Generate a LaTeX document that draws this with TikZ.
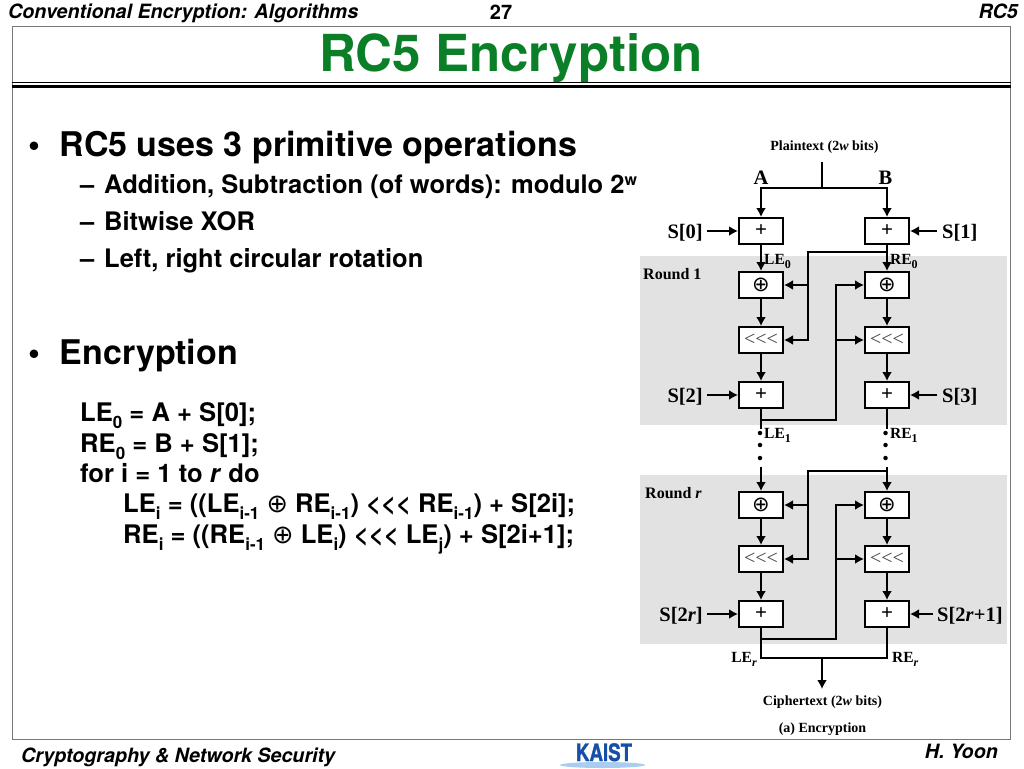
\documentclass[tikz,border=0pt]{standalone}
\usepackage{fontspec}
\setmainfont{TeX Gyre Heros}
\newfontfamily\figfont{Liberation Serif}
\newfontfamily\symfont{DejaVu Sans}
\usetikzlibrary{arrows.meta}
\newcommand\fsz[1]{\fontsize{#1}{#1}\selectfont}
\newcommand\lowtxt[2]{\raisebox{-.28em}{\fsz{#1}#2}}
\newcommand\uptxt[2]{\raisebox{.3em}{\fsz{#1}#2}}
\newcommand\xorsym{{\symfont\mdseries ⊕}}
\definecolor{titlegreen}{HTML}{0B7F28}
\definecolor{framegray}{HTML}{777777}
\definecolor{roundgray}{HTML}{E2E2E2}
\definecolor{kaistblue}{HTML}{1550A8}
\definecolor{kaistsky}{HTML}{A9CDF0}
\tikzset{
  txt/.style={anchor=base west,inner sep=0pt,font=\bfseries},
  hdr/.style={anchor=base west,inner sep=0pt,font=\bfseries\itshape\fsz{19.7}},
  opbox/.style={draw=black,fill=white,line width=2pt,minimum width=44pt,minimum height=26pt,inner sep=0pt,font=\figfont\bfseries\fsz{21}},
  lab/.style={inner sep=0pt,font=\figfont\bfseries\fsz{20.5}},
  lbl/.style={inner sep=0pt,font=\figfont\bfseries\fsz{15.5}},
  small/.style={inner sep=0pt,font=\figfont\bfseries\fsz{14}},
  wire/.style={line width=2pt},
  arrow/.style={wire,-{Latex[length=9pt,width=10pt]}},
  ddot/.style={circle,fill=black,inner sep=0pt,minimum size=4.5pt},
}
\begin{document}
\begin{tikzpicture}[x=1pt,y=-1pt]
\useasboundingbox (0,0) rectangle (1024,768);
\fill[white] (0,0) rectangle (1024,768);
% slide frame
\draw[framegray,line width=1pt] (12.5,26.5) rectangle (1010.5,739.5);
\draw[black,line width=1pt] (12,82.5) -- (1011,82.5);
\fill[black] (12,85) rectangle (1011,88);
% headers
\node[hdr] (hdrleft) at (8,19) {Conventional Encryption: Algorithms};
\node[anchor=base,inner sep=0pt,font=\bfseries\fsz{20}] (pagenum) at (501,20) {27};
\node[hdr,anchor=base east] (hdrright) at (1018,19) {RC5};
\node[anchor=base,inner sep=0pt,font=\bfseries\fsz{51},text=titlegreen] (title) at (511,71) {RC5 Encryption};
\node[hdr] (footleft) at (21,762) {Cryptography \& Network Security};
\node[hdr,anchor=base east] (footright) at (998,758) {H. Yoon};
% logo
\fill[kaistsky] (602.5,765) ellipse (42.5pt and 3pt);
\node[anchor=base,inner sep=0pt,xscale=.78,font=\bfseries\fsz{24}\addfontfeature{FakeBold=1.5},text=kaistblue] (logo) at (604,761) {KAIST};
% left text
\node[txt,font=\bfseries\fsz{34}] (b1) at (59.5,156) {RC5 uses 3 primitive operations};
\node[txt,font=\bfseries\fsz{34}] (bu1) at (28,156) {•};
\node[txt,font=\bfseries\fsz{25.5}] (d1) at (80,193) {–};
\node[txt,font=\bfseries\fsz{25.5}] (s1) at (104,193) {Addition, Subtraction (of words): modulo 2\uptxt{16}{w}};
\node[txt,font=\bfseries\fsz{25.5}] (d2) at (80,230) {–};
\node[txt,font=\bfseries\fsz{25.5}] (s2) at (104,230) {Bitwise XOR};
\node[txt,font=\bfseries\fsz{25.5}] (d3) at (80,267) {–};
\node[txt,font=\bfseries\fsz{25.5}] (s3) at (104,267) {Left, right circular rotation};
\node[txt,font=\bfseries\fsz{34}] (bu2) at (28,364) {•};
\node[txt,font=\bfseries\fsz{34}] (b2) at (59.5,364) {Encryption};
\node[txt,font=\bfseries\fsz{25.6}] (f1) at (80,421) {LE\lowtxt{17}{0} = A + S[0];};
\node[txt,font=\bfseries\fsz{25.6}] (f2) at (80,452) {RE\lowtxt{17}{0} = B + S[1];};
\node[txt,font=\bfseries\fsz{25.6}] (f3) at (80,482) {for i = 1 to \textit{r} do};
\node[txt,font=\bfseries\fsz{25.6}] (f4) at (123,512) {LE\lowtxt{17}{i} = ((LE\lowtxt{17}{i-1} \xorsym{} RE\lowtxt{17}{i-1}) <{}<{}< RE\lowtxt{17}{i-1}) + S[2i];};
\node[txt,font=\bfseries\fsz{25.6}] (f5) at (123,543) {RE\lowtxt{17}{i} = ((RE\lowtxt{17}{i-1} \xorsym{} LE\lowtxt{17}{i}) <{}<{}< LE\lowtxt{17}{j}) + S[2i+1];};
% round backgrounds
\fill[roundgray] (640,256) rectangle (1007,425);
\fill[roundgray] (640,475) rectangle (1007,644);
\node[lab,anchor=base west,font=\figfont\bfseries\fsz{16}] (r1) at (643,279) {Round 1};
\node[lab,anchor=base west,font=\figfont\bfseries\fsz{16}] (rr) at (645,498) {Round \textit{r}};
% top
\node[small] (plain) at (824.5,147) {Plaintext (2\textit{w} bits)};
\coordinate (ptop) at (822,162);
\coordinate (pjoin) at (822,188);
\coordinate (ajoin) at (761,188);
\coordinate (bjoin) at (887,188);
\node[lab,anchor=base] (la) at (761,184) {A};
\node[lab,anchor=base] (lb) at (885.5,184) {B};
% boxes
\foreach \n/\x/\y/\t in {a0/761/231/+,b0/887/231/+,a2/761/395/+,b2/887/395/+,ar2/761/614/+,br2/887/614/+}
  \node[opbox] (\n) at (\x,\y) {\t};
\foreach \n/\x/\y in {ax/761/285,bx/887/285,arx/761/505,brx/887/505}
  \node[opbox,font=\symfont\fsz{21}] (\n) at (\x,\y) {⊕};
\foreach \n/\x/\y in {ar/761/340,br/887/340,arr/761/559,brr/887/559}
  \node[opbox,font=\figfont\fsz{20},text=black!75] (\n) at (\x,\y) {<{}<{}<};
% S labels
\node[lab,anchor=base east] (s0) at (703,238) {S[0]};
\node[lab,anchor=base west] (s1r) at (942,238) {S[1]};
\node[lab,anchor=base east] (s2l) at (703,402) {S[2]};
\node[lab,anchor=base west] (s3r) at (942,402) {S[3]};
\node[lab,anchor=base east] (s2r) at (703,621) {S[2\textit{r}]};
\node[lab,anchor=base west] (s2r1) at (937,621) {S[2\textit{r}+1]};
% plaintext wires
\draw[wire] (ptop) -- (pjoin);
\draw[wire,line cap=rect] (ajoin) -- (bjoin);
\draw[arrow] (ajoin) -- (a0.north);
\draw[arrow] (bjoin) -- (b0.north);
\draw[arrow] ([xshift=4pt]s0.east |- a0.west) -- (a0.west);
\draw[arrow] ([xshift=4pt]s2l.east |- a2.west) -- (a2.west);
\draw[arrow] ([xshift=4pt]s2r.east |- ar2.west) -- (ar2.west);
\draw[arrow] ([xshift=-5pt]s1r.west |- b0.east) -- (b0.east);
\draw[arrow] ([xshift=-5pt]s3r.west |- b2.east) -- (b2.east);
\draw[arrow] ([xshift=-4pt]s2r1.west |- br2.east) -- (br2.east);
% round 1 verticals
\draw[arrow] (a0) -- (ax);
\draw[arrow] (b0) -- (bx);
\draw[arrow] (ax) -- (ar);
\draw[arrow] (bx) -- (br);
\draw[arrow] (ar) -- (a2);
\draw[arrow] (br) -- (b2);
% round 1 cross wires
\coordinate (rtap) at (887,252);
\coordinate (rcorner) at (808,252);
\coordinate (rmid) at (808,285);
\coordinate (rlow) at (808,340);
\draw[wire,line cap=rect] (rtap) -- (rcorner) -- (rlow);
\draw[arrow] (rmid) -- (ax.east);
\draw[arrow] (rlow) -- (ar.east);
\coordinate (ltap) at (761,420);
\coordinate (lcorner) at (836,420);
\coordinate (lmid) at (836,340);
\coordinate (ltop) at (836,285);
\draw[wire] (a2.south) -- (ltap) -- (lcorner) -- (ltop);
\draw[arrow,line cap=rect] (ltop) -- (bx.west);
\draw[arrow] (lmid) -- (br.west);
% dotted continuation
\node[ddot] (d1a) at (760,433) {};
\node[ddot] (d2a) at (760,445) {};
\node[ddot] (d3a) at (760,458) {};
\node[ddot] (d1b) at (885.5,433) {};
\node[ddot] (d2b) at (885.5,445) {};
\node[ddot] (d3b) at (885.5,458) {};
\draw[wire] (ltap) -- (761,429) coordinate (lstub);
\draw[wire] (b2.south) -- (887,429) coordinate (rstub);
% round r
\coordinate (arin) at (761,467);
\coordinate (brin) at (887,467);
\draw[arrow] (arin) -- (arx);
\draw[arrow] (brin) -- (brx);
\coordinate (rtapr) at (887,471);
\coordinate (rcornerr) at (808,471);
\coordinate (rmidr) at (808,505);
\coordinate (rlowr) at (808,559);
\draw[wire,line cap=rect] (rtapr) -- (rcornerr) -- (rlowr);
\draw[arrow] (rmidr) -- (arx.east);
\draw[arrow] (rlowr) -- (arr.east);
\draw[arrow] (arx) -- (arr);
\draw[arrow] (brx) -- (brr);
\draw[arrow] (arr) -- (ar2);
\draw[arrow] (brr) -- (br2);
\coordinate (ltapr) at (761,639);
\coordinate (lcornerr) at (836,639);
\coordinate (lmidr) at (836,559);
\coordinate (ltopr) at (836,505);
\draw[wire] (ltapr) -- (lcornerr) -- (ltopr);
\draw[arrow,line cap=rect] (ltopr) -- (brx.west);
\draw[arrow] (lmidr) -- (brr.west);
% output
\coordinate (cl) at (761,658);
\coordinate (cr) at (887,658);
\coordinate (cm) at (822,658);
\coordinate (cout) at (822,689);
\draw[wire,line join=miter] (ar2.south) -- (cl) -- (cr) -- (br2.south);
\draw[arrow] (cm) -- (cout);
% labels
\node[lbl,anchor=base west] (le0) at (764,264) {LE\lowtxt{12}{0}};
\node[lbl,anchor=base west] (re0) at (890,264) {RE\lowtxt{12}{0}};
\node[lbl,anchor=base west] (le1) at (764,438) {LE\lowtxt{12}{1}};
\node[lbl,anchor=base west] (re1) at (890,438) {RE\lowtxt{12}{1}};
\node[lbl,anchor=base east] (ler) at (757,662) {LE\lowtxt{12}{\textit{r}}};
\node[lbl,anchor=base west] (rer) at (892,662) {RE\lowtxt{12}{\textit{r}}};
\node[small] (cipher) at (822.5,702) {Ciphertext (2\textit{w} bits)};
\node[small] (caption) at (822.5,729) {(a) Encryption};
\end{tikzpicture}
\end{document}
